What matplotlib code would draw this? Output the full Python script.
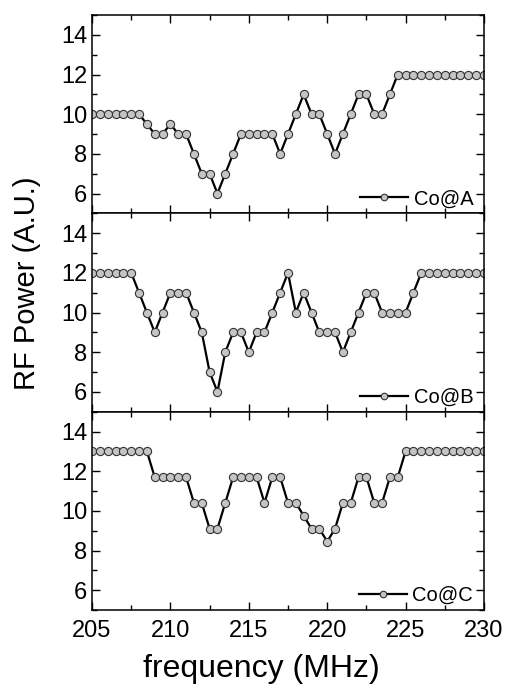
import numpy as np
import matplotlib
matplotlib.use("Agg")
import matplotlib.pyplot as plt
from matplotlib.ticker import MultipleLocator

plt.rcParams['font.family'] = ['Liberation Sans', 'DejaVu Sans']

freq = np.arange(205, 230.01, 0.5)

co_a = [10, 10, 10, 10, 10, 10, 10, 9.5, 9, 9, 9.5, 9, 9, 8, 7, 7, 6, 7, 8,
        9, 9, 9, 9, 9, 8, 9, 10, 11, 10, 10, 9, 8, 9, 10, 11, 11, 10, 10, 11,
        12, 12, 12, 12, 12, 12, 12, 12, 12, 12, 12, 12]
co_b = [12, 12, 12, 12, 12, 12, 11, 10, 9, 10, 11, 11, 11, 10, 9, 7, 6, 8, 9,
        9, 8, 9, 9, 10, 11, 12, 10, 11, 10, 9, 9, 9, 8, 9, 10, 11, 11, 10, 10,
        10, 10, 11, 12, 12, 12, 12, 12, 12, 12, 12, 12]
co_c = [13, 13, 13, 13, 13, 13, 13, 13, 11.7, 11.7, 11.7, 11.7, 11.7, 10.4,
        10.4, 9.1, 9.1, 10.4, 11.7, 11.7, 11.7, 11.7, 10.4, 11.7, 11.7, 10.4,
        10.4, 9.75, 9.1, 9.1, 8.45, 9.1, 10.4, 10.4, 11.7, 11.7, 10.4, 10.4,
        11.7, 11.7, 13, 13, 13, 13, 13, 13, 13, 13, 13, 13, 13]
labels = ["Co@A", "Co@B", "Co@C"]
series = [co_a, co_b, co_c]
xticks = [205, 210, 215, 220, 225, 230]
yticks = [6, 8, 10, 12, 14]

W, H = 506, 687
fig = plt.figure(figsize=(W / 100, H / 100), dpi=100)

left_px, right_px, top_px, bottom_px = 92, 484, 15, 610
ph = (bottom_px - top_px) / 3

axes = []
for i, (lab, ys) in enumerate(zip(labels, series)):
    y0 = top_px + ph * (i + 1)
    ax = fig.add_axes([left_px / W, 1 - y0 / H, (right_px - left_px) / W, ph / H])
    ax.plot(freq, ys, '-o', color='black', lw=1.6, marker='o', ms=5.9,
            mfc='#c4c4c4', mec='#333333', mew=0.8, label=lab)
    ax.set_xlim(205, 230)
    ax.set_ylim(5, 15)
    ax.set_yticks(yticks)
    ax.yaxis.set_minor_locator(MultipleLocator(1))
    ax.set_xticks(xticks)
    ax.xaxis.set_minor_locator(MultipleLocator(2.5))
    ax.tick_params(which='both', direction='in', top=True, right=True,
                   labelsize=17, width=1.0)
    ax.tick_params(which='major', length=6)
    ax.tick_params(which='minor', length=3.5)
    ax.tick_params(axis='x', which='major', pad=7)
    for s in ax.spines.values():
        s.set_linewidth(1.1)
    if i < 2:
        ax.tick_params(labelbottom=False)
    ax.legend(loc='lower right', bbox_to_anchor=(0.98, 0.01), frameon=False,
              fontsize=14.5, handlelength=2.4, handletextpad=0.25,
              borderpad=0.05, borderaxespad=0.1, markerscale=0.8)
    axes.append(ax)

fig.text(261 / W, 1 - 669 / H, 'frequency (MHz)', fontsize=23,
         ha='center', va='center')
fig.text(27 / W, 1 - 283 / H, 'RF Power (A.U.)',
         rotation=90, fontsize=21, ha='center', va='center')

fig.savefig('out.png', dpi=100)
